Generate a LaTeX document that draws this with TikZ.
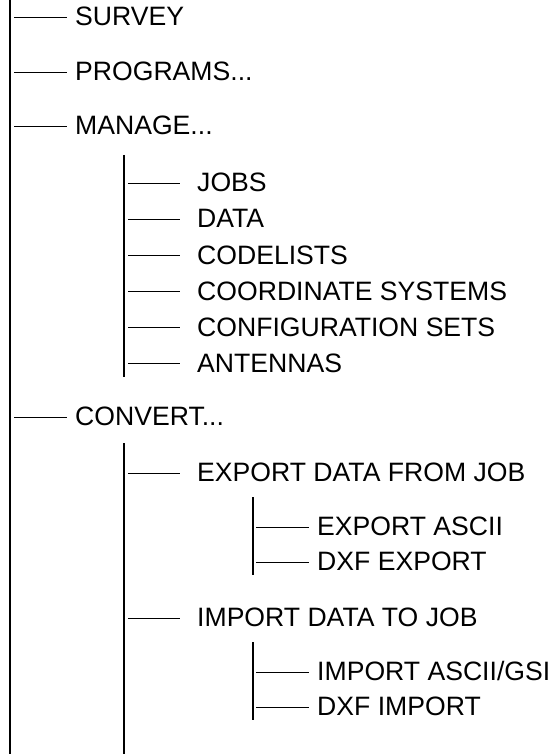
\documentclass[tikz,border=0pt]{standalone}
\usepackage{fontspec}
\setmainfont{Liberation Sans}
\tikzset{
  lbl/.style={anchor=base west, inner sep=0pt, font=\fontsize{26.6}{30}\selectfont},
  vbar/.style={line width=1.5pt, line cap=butt},
  hbar/.style={line width=1.3pt, line cap=butt}
}
\newcommand\stemline[3]{\draw[hbar] ([xshift=-#2pt,yshift=8.3pt]#1.base west) -- ([xshift=-#3pt,yshift=8.3pt]#1.base west);}
\begin{document}
\begin{tikzpicture}[x=1pt,y=-1pt]
\useasboundingbox (0,0) rectangle (554,754);
% vertical bars
\coordinate (v0t) at (10,0);   \coordinate (v0b) at (10,754);
\coordinate (vmt) at (124,155); \coordinate (vmb) at (124,377);
\coordinate (vct) at (124,443); \coordinate (vcb) at (124,754);
\coordinate (vet) at (253,497); \coordinate (veb) at (253,575);
\coordinate (vit) at (253,642); \coordinate (vib) at (253,720);
\draw[vbar] (v0t) -- (v0b);
\draw[vbar] (vmt) -- (vmb);
\draw[vbar] (vct) -- (vcb);
\draw[vbar] (vet) -- (veb);
\draw[vbar] (vit) -- (vib);
% top level
\node[lbl] (survey)   at (75,25.5)  {SURVEY};
\node[lbl] (programs) at (75,80.5)  {PROGRAMS...};
\node[lbl] (manage)   at (75,134.5) {MANAGE...};
\node[lbl] (convert)  at (75,425.5) {CONVERT...};
% manage
\node[lbl] (jobs)     at (197,191.5) {JOBS};
\node[lbl] (data)     at (197,227.5) {DATA};
\node[lbl] (codes)    at (197,264)   {CODELISTS};
\node[lbl] (coords)   at (197,300)   {COORDINATE SYSTEMS};
\node[lbl] (configs)  at (197,336)   {CONFIGURATION SETS};
\node[lbl] (antennas) at (197,372)   {ANTENNAS};
% convert
\node[lbl] (expdata)  at (197,481.5) {EXPORT DATA FROM JOB};
\node[lbl] (impdata)  at (197,626.5) {IMPORT DATA TO JOB};
\node[lbl] (expascii) at (317,535.5) {EXPORT ASCII};
\node[lbl] (dxfexp)   at (317,570.5) {DXF EXPORT};
\node[lbl] (impascii) at (317,680.5) {IMPORT ASCII/GSI};
\node[lbl] (dxfimp)   at (317,715.5) {DXF IMPORT};
% stems
\stemline{survey}{61}{8}
\stemline{programs}{61}{8}
\stemline{manage}{61}{8}
\stemline{convert}{61}{8}
\stemline{jobs}{69}{17}
\stemline{data}{69}{17}
\stemline{codes}{69}{17}
\stemline{coords}{69}{17}
\stemline{configs}{69}{17}
\stemline{antennas}{69}{17}
\stemline{expdata}{69}{17}
\stemline{impdata}{69}{17}
\stemline{expascii}{61}{8}
\stemline{dxfexp}{61}{8}
\stemline{impascii}{61}{8}
\stemline{dxfimp}{61}{8}
\end{tikzpicture}
\end{document}
